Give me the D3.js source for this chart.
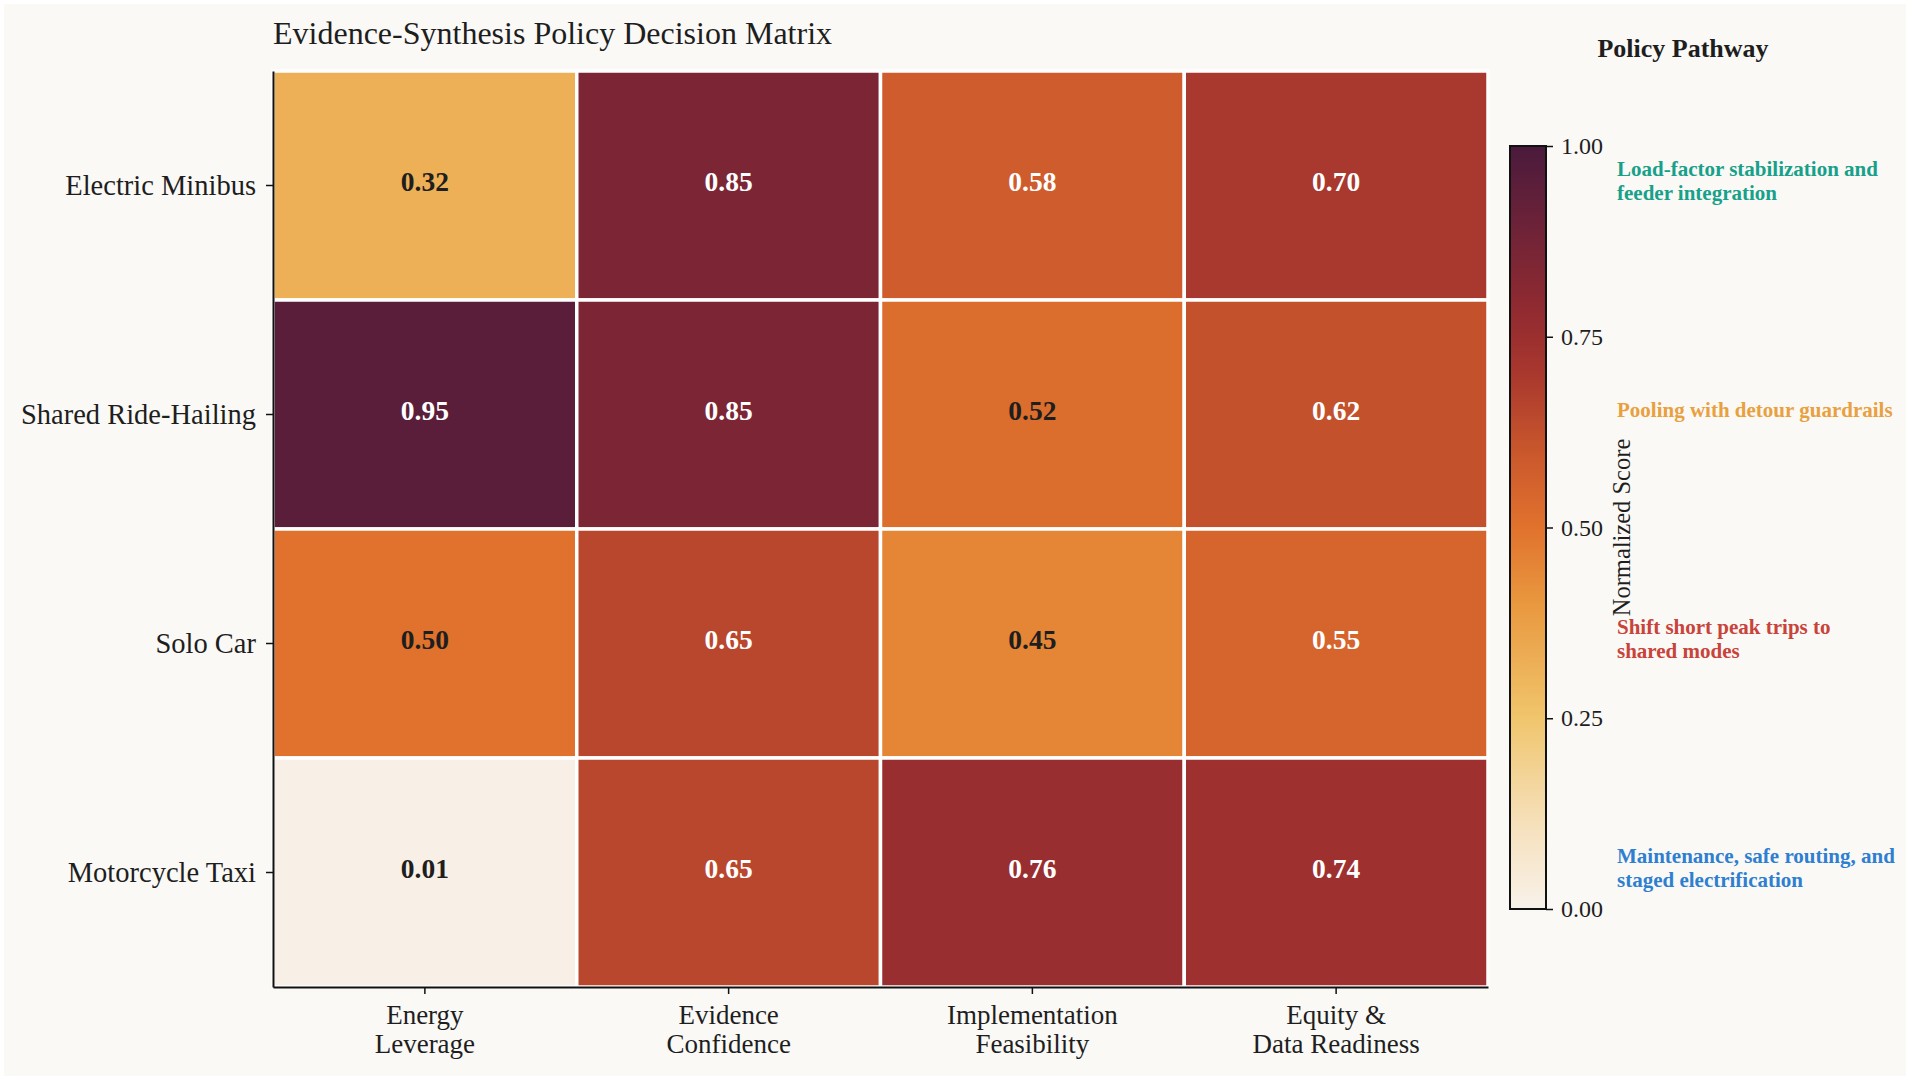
<!DOCTYPE html>
<html>
<head>
<meta charset="utf-8">
<script src="https://cdn.jsdelivr.net/npm/d3@7"></script>
<style>
  html, body { margin: 0; padding: 0; background: #ffffff; }
  svg { display: block; font-family: "Liberation Serif", "Times New Roman", serif; }
</style>
</head>
<body>
<svg id="chart" width="1911" height="1081"></svg>
<script>
// data
var modes = ["Electric Minibus", "Shared Ride-Hailing", "Solo Car", "Motorcycle Taxi"];
var criteria = [["Energy", "Leverage"], ["Evidence", "Confidence"], ["Implementation", "Feasibility"], ["Equity &", "Data Readiness"]];
var scores = [
  [0.32, 0.85, 0.58, 0.70],
  [0.95, 0.85, 0.52, 0.62],
  [0.50, 0.65, 0.45, 0.55],
  [0.01, 0.65, 0.76, 0.74]
];
var pathways = [
  ["Load-factor stabilization and", "feeder integration"],
  ["Pooling with detour guardrails"],
  ["Shift short peak trips to", "shared modes"],
  ["Maintenance, safe routing, and", "staged electrification"]
];
var pathwayColors = ["#17a08a", "#e9a03e", "#c8433a", "#2f7fd0"];
var cbTicks = [0, 0.25, 0.5, 0.75, 1];

// colormap stops
var cmapDomain = [0, 0.12, 0.25, 0.4, 0.5, 0.6, 0.7, 0.78, 0.88, 1];
var cmapRange = ["#f8f2ea", "#f5dfb8", "#f0c56c", "#e9983f", "#e0722d", "#c9572c", "#a9382e", "#932a30", "#722437", "#4a1a3c"];
var color = d3.scaleLinear().domain(cmapDomain).range(cmapRange).clamp(true);

var W = 1911, H = 1081;
var margin = {left: 273, right: 1488, top: 71, bottom: 987};
var svg = d3.select("#chart");

// figure background
svg.append("rect")
  .attr("x", 4).attr("y", 4).attr("width", W - 9).attr("height", H - 9)
  .attr("fill", "#faf9f6");

var x = d3.scaleBand().domain(d3.range(criteria.length)).range([margin.left, margin.right]);
var y = d3.scaleBand().domain(d3.range(modes.length)).range([margin.top, margin.bottom]);

var cells = [];
scores.forEach(function (row, i) {
  row.forEach(function (v, j) { cells.push({r: i, c: j, v: v}); });
});

var g = svg.append("g");

g.selectAll("rect.cell").data(cells).enter().append("rect")
  .attr("class", "cell")
  .attr("x", function (d) { return x(d.c); })
  .attr("y", function (d) { return y(d.r); })
  .attr("width", x.bandwidth())
  .attr("height", y.bandwidth())
  .attr("fill", function (d) { return color(d.v); })
  .attr("stroke", "#ffffff")
  .attr("stroke-width", 3.5);

g.selectAll("text.val").data(cells).enter().append("text")
  .attr("class", "val")
  .attr("x", function (d) { return x(d.c) + x.bandwidth() / 2; })
  .attr("y", function (d) { return y(d.r) + y.bandwidth() / 2; })
  .attr("dy", "0.2em")
  .attr("text-anchor", "middle")
  .attr("font-weight", "bold")
  .attr("font-size", 27.5)
  .attr("fill", function (d) { return d.v > 0.53 ? "#ffffff" : "#1e1e1e"; })
  .text(function (d) { return d.v.toFixed(2); });

// axes
var yAxis = d3.axisLeft(y).tickSize(7).tickSizeOuter(0).tickFormat(function (i) { return modes[i]; });
var yG = svg.append("g").attr("transform", "translate(" + margin.left + ",0)").call(yAxis);
yG.selectAll("text").attr("font-size", 28.5).attr("fill", "#1e1e1e").attr("x", -17).attr("font-family", "Liberation Serif");

var xAxis = d3.axisBottom(x).tickSize(7).tickSizeOuter(0).tickFormat("");
var xG = svg.append("g").attr("transform", "translate(0," + margin.bottom + ")").call(xAxis);
xG.selectAll(".tick").each(function (i) {
  var t = d3.select(this).append("text")
    .attr("text-anchor", "middle")
    .attr("font-size", 27)
    .attr("fill", "#1e1e1e")
    .attr("font-family", "Liberation Serif");
  criteria[i].forEach(function (line, k) {
    t.append("tspan").attr("x", 0).attr("y", 37 + k * 29).text(line);
  });
});
[yG, xG].forEach(function (a) {
  a.select(".domain").attr("stroke", "#111").attr("stroke-width", 2);
  a.selectAll(".tick line").attr("stroke", "#111").attr("stroke-width", 1.5);
});

// title
svg.append("text")
  .attr("x", margin.left).attr("y", 44)
  .attr("font-size", 32).attr("fill", "#1e1e1e")
  .text("Evidence-Synthesis Policy Decision Matrix");

// colorbar
var cb = {x: 1510, w: 36, top: 146, bottom: 909};
var cbScale = d3.scaleLinear().domain([0, 1]).range([cb.bottom, cb.top]);
var defs = svg.append("defs");
var grad = defs.append("linearGradient").attr("id", "cbgrad")
  .attr("x1", 0).attr("y1", 1).attr("x2", 0).attr("y2", 0);
grad.selectAll("stop").data(d3.range(0, 1.0001, 0.05)).enter().append("stop")
  .attr("offset", function (d) { return d; })
  .attr("stop-color", function (d) { return color(d); });
svg.append("rect")
  .attr("x", cb.x).attr("y", cb.top).attr("width", cb.w).attr("height", cb.bottom - cb.top)
  .attr("fill", "url(#cbgrad)").attr("stroke", "#111").attr("stroke-width", 2);
var cbAxis = d3.axisRight(cbScale).tickValues(cbTicks).tickSize(7).tickFormat(d3.format(".2f"));
var cbG = svg.append("g").attr("transform", "translate(" + (cb.x + cb.w) + ",0)").call(cbAxis);
cbG.select(".domain").remove();
cbG.selectAll(".tick line").attr("stroke", "#111").attr("stroke-width", 1.5);
cbG.selectAll("text").attr("font-size", 24).attr("fill", "#1e1e1e").attr("x", 15).attr("font-family", "Liberation Serif");

svg.append("text")
  .attr("transform", "translate(1630," + ((cb.top + cb.bottom) / 2) + ") rotate(-90)")
  .attr("text-anchor", "middle")
  .attr("font-size", 24.5).attr("fill", "#1e1e1e")
  .text("Normalized Score");

// policy pathway annotations, one per row
svg.append("text")
  .attr("x", 1683).attr("y", 57)
  .attr("text-anchor", "middle")
  .attr("font-size", 26).attr("font-weight", "bold").attr("fill", "#1e1e1e")
  .text("Policy Pathway");

svg.selectAll("text.path").data(pathways).enter().append("text")
  .attr("class", "path")
  .attr("font-size", 21).attr("font-weight", "bold")
  .attr("fill", function (d, i) { return pathwayColors[i]; })
  .each(function (lines, i) {
    var cy = y(i) + y.bandwidth() / 2 - 4;
    var t = d3.select(this);
    lines.forEach(function (line, k) {
      t.append("tspan")
        .attr("x", 1617)
        .attr("y", cy + (k - (lines.length - 1) / 2) * 24)
        .attr("dy", "0.33em")
        .text(line);
    });
  });
</script>
</body>
</html>
